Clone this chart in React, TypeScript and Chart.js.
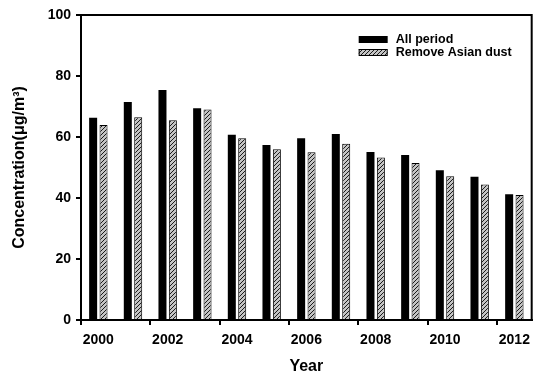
import React, { useEffect, useRef } from "react";
import { Chart, registerables } from "chart.js";

Chart.register(...registerables);

const years = ["2000", "2001", "2002", "2003", "2004", "2005", "2006", "2007", "2008", "2009", "2010", "2011", "2012"];
const allPeriod = [66.3, 71.5, 75.4, 69.4, 60.7, 57.4, 59.6, 61.0, 55.1, 54.1, 49.1, 47.0, 41.2];
const removeAsianDust = [63.9, 66.5, 65.5, 69.0, 59.6, 56.0, 55.0, 57.8, 53.3, 51.5, 47.1, 44.4, 41.0];
const seriesNames = ["All period", "Remove Asian dust"];
const yTicks = [0, 20, 40, 60, 80, 100];

const FONT = "'Liberation Sans', Arial, Helvetica, sans-serif";

function makeHatch(ctx: CanvasRenderingContext2D): CanvasPattern | string {
  const c = document.createElement("canvas");
  const s = 4;
  c.width = s;
  c.height = s;
  const g = c.getContext("2d");
  if (!g) return "#999";
  g.fillStyle = "#c4c4c4";
  g.fillRect(0, 0, s, s);
  g.strokeStyle = "#1a1a1a";
  g.lineWidth = 1;
  g.beginPath();
  g.moveTo(-1, 1);
  g.lineTo(1, -1);
  g.moveTo(0, s);
  g.lineTo(s, 0);
  g.moveTo(s - 1, s + 1);
  g.lineTo(s + 1, s - 1);
  g.stroke();
  return ctx.createPattern(c, "repeat") || "#999";
}

export default function App() {
  const ref = useRef<HTMLCanvasElement | null>(null);

  useEffect(() => {
    document.body.style.margin = "0";
    const canvas = ref.current;
    if (!canvas) return;
    const ctx = canvas.getContext("2d");
    if (!ctx) return;
    const hatch = makeHatch(ctx);

    const framePlugin = {
      id: "frameLegend",
      afterDraw(chart: any) {
        const c = chart.ctx as CanvasRenderingContext2D;
        const a = chart.chartArea;
        c.save();
        c.strokeStyle = "#000";
        c.lineWidth = 2;
        c.beginPath();
        c.moveTo(a.left, a.top);
        c.lineTo(a.right, a.top);
        c.lineTo(a.right, a.bottom);
        c.stroke();

        // legend
        const sx = a.right - 173;
        const sw = 29;
        const sh = 7;
        const rows = [a.top + 21, a.top + 34];
        const styles = [chart.data.datasets[0].backgroundColor, chart.data.datasets[1].backgroundColor];
        c.font = `bold 12.5px ${FONT}`;
        c.textBaseline = "middle";
        c.textAlign = "left";
        for (let i = 0; i < 2; i++) {
          c.fillStyle = styles[i];
          c.fillRect(sx, rows[i], sw, sh);
          if (i === 1) {
            c.lineWidth = 1;
            c.strokeStyle = "#000";
            c.strokeRect(sx + 0.5, rows[i] + 0.5, sw - 1, sh - 1);
          }
          c.fillStyle = "#000";
          c.fillText(chart.data.datasets[i].label, sx + 37, rows[i] + sh / 2 + 0.5);
        }
        c.restore();
      },
    };

    const chart = new Chart(canvas, {
      type: "bar",
      data: {
        labels: years,
        datasets: [
          {
            label: seriesNames[0],
            data: allPeriod,
            backgroundColor: "#000",
            borderColor: "#000",
            borderWidth: 0,
            categoryPercentage: 0.6,
            barPercentage: 0.77,
          },
          {
            label: seriesNames[1],
            data: removeAsianDust,
            backgroundColor: hatch as any,
            borderColor: "#000",
            borderWidth: 1,
            categoryPercentage: 0.6,
            barPercentage: 0.77,
          },
        ],
      },
      options: {
        responsive: false,
        animation: false,
        layout: { padding: { top: 15, right: 2, left: 0, bottom: 0 } },
        plugins: {
          legend: { display: false },
          tooltip: { enabled: false },
        },
        scales: {
          x: {
            type: "category",
            offset: true,
            grid: {
              drawOnChartArea: false,
              drawTicks: true,
              tickLength: 5,
              lineWidth: 2,
              color: (c: any) => (c.index % 2 === 0 ? "#000" : "rgba(0,0,0,0)"),
            },
            border: { display: true, color: "#000", width: 2 },
            ticks: {
              autoSkip: false,
              maxRotation: 0,
              minRotation: 0,
              padding: 7,
              color: "#000",
              font: { family: FONT, size: 14, weight: "bold" },
              callback: (_v: any, i: number) => (i % 2 === 0 ? years[i] : ""),
            },
            title: {
              display: true,
              text: "Year",
              color: "#000",
              font: { family: FONT, size: 16, weight: "bold" },
              padding: { top: 0, bottom: 0 },
            },
            afterFit: (s: any) => {
              s.height = 56;
            },
          },
          y: {
            min: 0,
            max: 100,
            grid: {
              drawOnChartArea: false,
              drawTicks: true,
              tickLength: 5,
              lineWidth: 2,
              color: "#000",
            },
            border: { display: true, color: "#000", width: 2 },
            afterBuildTicks: (s: any) => {
              s.ticks = yTicks.map((v) => ({ value: v }));
            },
            ticks: {
              padding: 5,
              color: "#000",
              font: { family: FONT, size: 14, weight: "bold" },
            },
            title: {
              display: true,
              text: "Concentration(μg/m³)",
              color: "#000",
              font: { family: FONT, size: 16, weight: "bold" },
              padding: { top: 10, bottom: 0 },
            },
            afterFit: (s: any) => {
              s.width = 81;
            },
          },
        },
      },
      plugins: [framePlugin],
    });

    return () => chart.destroy();
  }, []);

  return (
    <div style={{ width: 537, height: 376 }}>
      <canvas ref={ref} width={537} height={376} style={{ display: "block" }} />
    </div>
  );
}
